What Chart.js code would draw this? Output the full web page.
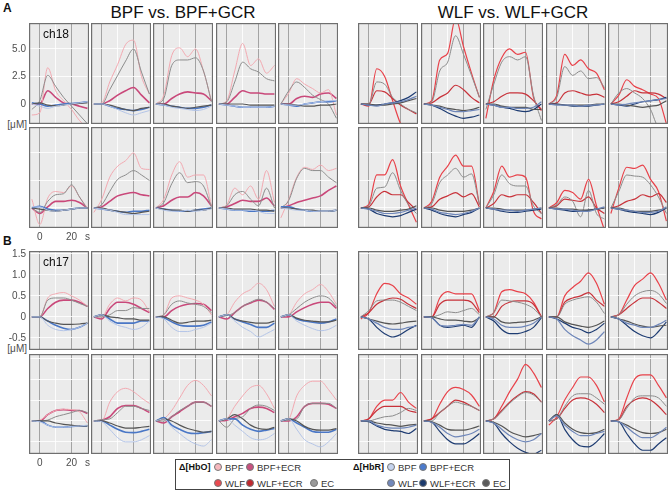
<!DOCTYPE html>
<html>
<head>
<meta charset="utf-8">
<script src="https://cdn.jsdelivr.net/npm/chart.js@4"></script>
<style>
body { margin: 0; background: #fff; font-family: 'Liberation Sans', Arial, sans-serif; }
#fig { position: relative; width: 669px; height: 491px; overflow: hidden; }
#fig canvas { position: absolute; }
.t { position: absolute; white-space: nowrap; color: #111; }
.title { font-size: 17px; line-height: 17px; transform: translateX(-50%); }
.unit { font-size: 10px; line-height: 12px; color: #4d4d4d; text-align: right; width: 27px; left: 0; }
#legend { position: absolute; left: 175px; top: 459px; width: 333px; height: 29px; border: 1px solid #444; background: #fff; }
.lg { position: absolute; font-size: 9.5px; line-height: 10px; color: #333; white-space: nowrap; }
.lgh { position: absolute; font-size: 9px; line-height: 10px; font-weight: bold; color: #111; white-space: nowrap; }
.dot { position: absolute; width: 8px; height: 8px; border-radius: 50%; box-sizing: border-box; border: 1px solid #777; }
</style>
</head>
<body>
<div id="fig">
  <div class="t" style="left:3px;top:1px;font-size:12px;font-weight:bold">A</div>
  <div class="t" style="left:3px;top:234px;font-size:12px;font-weight:bold">B</div>
  <div class="t title" style="left:183px;top:4px">BPF vs. BPF+GCR</div>
  <div class="t title" style="left:513px;top:4px">WLF vs. WLF+GCR</div>
  <div class="t unit" style="top:119px">[μM]</div>
  <div class="t unit" style="top:343px">[μM]</div>
  <div id="legend"></div>
</div>
<script>
// ── data ─────────────────────────────────────────────────────────────────────

const times = [-5, 0, 5, 10, 15, 20, 25, 30]

const xGridTicks = [0, 10, 20, 30]
const xTickText = ['0', '', '20', 's']
const stimLines = [0, 20]

const yTicksA = [0, 2.5, 5]
const yTextA = ['0', '2.5', '5.0']
const yTicksB = [-0.5, 0, 0.5, 1, 1.5]
const yTextB = ['-0.5', '0', '0.5', '1.0', '1.5']

const channelLabels = ['ch18', 'ch17']

// A, upper row (ch18) — BPF group
const a1_hbo_bpf = [
    [-1.0, -0.8, 3.3, 1.2, 0.3, -0.5, -1.5, -2.2],
    [0, 0.1, 2.0, 3.6, 5.4, 5.8, 2.5, 0.9],
    [0, 0.8, 4.4, 5.1, 4.3, 5.0, 3.0, 0.3],
    [0, 0.3, 3.0, 5.5, 3.5, 4.1, 2.8, 3.5],
    [0, 1.0, 2.3, 1.8, 1.4, 1.0, 1.3, -1.0],
]
const a1_hbo_bpfEcr = [
    [0, 0, 1.2, 0.6, 0.1, 0, -0.2, -0.4],
    [0, 0, 0.3, 0.8, 1.2, 1.5, 0.8, 0.1],
    [0, 0, 0.5, 0.9, 1.1, 1.0, 0.9, 0.3],
    [0, 0, 0.6, 1.2, 1.0, 1.0, 0.9, 0.9],
    [0, 0, 0.5, 0.7, 0.6, 0.9, 1.0, 0.5],
]
const a1_hbo_ec_bpf = [
    [-0.5, 0.3, 2.6, 1.6, 0.6, -0.2, -1.0, -1.8],
    [0, 0, 1.3, 2.6, 3.9, 5.0, 2.9, 0.9],
    [0, 0.5, 3.5, 4.0, 4.0, 4.2, 3.0, 0.2],
    [0, 0.2, 2.0, 3.8, 3.2, 2.9, 2.3, 2.1],
    [0, 1.2, 2.0, 1.5, 0.8, 0.4, 0, -1.3],
]
const a1_hbr_bpf = [
    [0, -0.2, -0.4, -0.2, -0.1, 0, 0.1, 0.2],
    [0, 0, -0.2, -0.5, -0.8, -1.0, -0.8, -0.6],
    [0, -0.1, -0.3, -0.4, -0.5, -0.6, -0.5, -0.2],
    [0, -0.1, -0.2, -0.3, -0.3, -0.3, -0.3, -0.2],
    [0, -0.1, -0.1, 0, 0.1, 0.2, 0.3, 0.3],
]
const a1_hbr_bpfEcr = [
    [0.1, 0, -0.2, -0.1, 0, 0.05, 0.1, 0.2],
    [0, 0, -0.2, -0.4, -0.5, -0.6, -0.5, -0.3],
    [0, -0.1, -0.2, -0.3, -0.4, -0.4, -0.3, -0.1],
    [0, -0.1, -0.2, -0.3, -0.3, -0.3, -0.3, -0.2],
    [0, -0.1, -0.2, 0, 0.1, 0.2, 0.2, 0.3],
]
const a1_hbr_ec_bpf = [
    [0, 0.1, -0.1, -0.15, -0.1, 0, 0.05, 0.1],
    [0, 0, -0.1, -0.3, -0.5, -0.6, -0.4, -0.3],
    [0, 0, -0.2, -0.3, -0.4, -0.3, -0.2, -0.1],
    [0, 0, 0, 0, -0.1, -0.1, -0.1, -0.1],
    [0, 0, -0.1, -0.2, -0.2, -0.1, -0.1, 0],
]

// A, upper row (ch18) — WLF group
const a1_hbo_wlf = [
    [0, -0.2, 3.2, 2.5, 0.3, -1.8, -3, -3],
    [0, 0.3, 4.0, 4.6, 7.8, 5.2, 2.8, 0.6],
    [-1.3, 2.2, 4.2, 5.0, 4.5, 4.7, 0.6, -0.6],
    [0, 0.8, 4.5, 3.5, 4.0, 3.2, 2.8, 1.3],
    [0, 0.8, 2.2, 1.6, 1.3, 0.9, 0.5, -1.8],
]
const a1_hbo_wlfEcr = [
    [0, 0, 1.2, 1.1, 0.5, -0.1, -0.5, -0.9],
    [0, 0.1, 0.6, 1.0, 1.7, 1.3, 0.6, 0.1],
    [0, 0.2, 0.7, 1.0, 1.0, 0.9, 0.3, -0.5],
    [0, 0.1, 1.0, 1.2, 1.0, 0.8, 0.9, 0.6],
    [0, 0.2, 0.7, 1.2, 1.0, 1.0, 0.9, 0.5],
]
const a1_hbo_ec_wlf = [
    [0, 0, 2.0, 1.8, 0.6, 0, -0.5, -0.8],
    [0, 0.2, 3.0, 3.8, 6.2, 4.5, 2.6, 0.6],
    [-0.5, 1.8, 3.8, 4.3, 4.0, 4.3, 0.8, -1.5],
    [0, 0.6, 3.4, 2.6, 3.0, 2.3, 2.4, 1.5],
    [0, 1.0, 1.4, 1.0, 0.5, -0.5, -2, -2],
]
const a1_hbr_wlf = [
    [0, -0.1, -0.2, 0, 0.1, 0.2, 0.4, 0.7],
    [0, -0.1, -0.3, -0.5, -0.7, -0.7, -0.6, -0.5],
    [0, -0.1, -0.3, -0.3, -0.4, -0.4, -0.3, 0.2],
    [0, -0.1, -0.1, -0.1, -0.2, -0.1, -0.1, 0],
    [0, -0.1, 0, 0.1, 0.2, 0.3, 0.4, 0.5],
]
const a1_hbr_wlfEcr = [
    [0, -0.1, -0.1, 0, 0.1, 0.3, 0.6, 1.1],
    [0, -0.1, -0.4, -0.8, -1.1, -1.3, -1.2, -1.0],
    [0, -0.1, -0.3, -0.4, -0.6, -0.7, -0.5, 0],
    [0, 0, -0.1, -0.2, -0.2, -0.2, -0.1, 0],
    [0, -0.1, -0.2, 0, 0.2, 0.3, 0.4, 0.6],
]
const a1_hbr_ec_wlf = [
    [0, 0, -0.1, -0.1, 0, 0.1, 0.3, 0.5],
    [0, -0.1, -0.2, -0.4, -0.5, -0.6, -0.5, -0.3],
    [0, 0, -0.2, -0.3, -0.3, -0.3, -0.5, -0.5],
    [0, 0, -0.1, -0.1, -0.1, -0.1, 0, 0],
    [0, 0, -0.1, -0.2, -0.3, -0.2, -0.1, 0.3],
]

// A, lower row — BPF group
const a2_hbo_bpf = [
    [0.8, -1.5, 0.9, 1.5, 1.4, 2.0, 1.0, 0],
    [-0.4, 0.8, 2.8, 3.8, 4.3, 5.0, 3.6, 3.5],
    [0, 0.8, 3.0, 4.2, 2.8, 3.0, 3.0, 0.2],
    [0, 0.3, 1.8, 1.2, 2.0, 0.8, 3.4, 0.5],
    [-0.9, 0.8, 2.8, 3.7, 3.5, 3.9, 3.4, 3.6],
]
const a2_hbo_bpfEcr = [
    [0, -0.5, 0.1, 0.6, 0.6, 0.7, 0.5, 0],
    [0, 0.1, 0.6, 1.1, 1.3, 1.4, 1.2, 1.1],
    [0, 0.2, 0.7, 1.0, 1.0, 1.4, 1.1, 0.2],
    [0, 0.1, 0.4, 0.7, 0.6, 0.6, 0.9, 0.2],
    [0, 0.2, 0.5, 0.7, 0.9, 1.1, 1.6, 2.0],
]
const a2_hbo_ec_bpf = [
    [0, -0.4, 0.6, 1.2, 1.3, 2.1, 1.0, -0.1],
    [0, 0.3, 1.5, 2.6, 3.0, 3.4, 3.0, 2.5],
    [0, 0.5, 2.2, 3.2, 2.3, 2.4, 2.0, 0.1],
    [0, 0.2, 1.2, 1.5, 0.8, 0.2, 1.8, 0],
    [0, 0.7, 2.7, 3.6, 3.4, 3.4, 2.8, 2.3],
]
const a2_hbr_bpf = [
    [0.1, 0.1, -0.2, -0.3, -0.2, -0.1, 0, 0],
    [0, -0.1, -0.2, -0.4, -0.6, -0.6, -0.6, -0.6],
    [0, -0.2, -0.3, -0.3, -0.2, -0.3, -0.2, -0.1],
    [0, -0.1, -0.2, -0.2, -0.2, -0.3, -0.5, -0.5],
    [0, -0.1, -0.2, -0.2, -0.3, -0.3, -0.3, -0.2],
]
const a2_hbr_bpfEcr = [
    [0, 0.15, -0.1, -0.2, -0.2, -0.1, 0, 0],
    [0, -0.1, -0.2, -0.3, -0.4, -0.3, -0.3, -0.2],
    [0, -0.1, -0.2, -0.3, -0.3, -0.2, -0.1, 0],
    [0, -0.1, -0.2, -0.2, -0.3, -0.3, -0.3, -0.2],
    [0.1, 0.1, -0.1, -0.2, -0.3, -0.3, -0.3, -0.2],
]
const a2_hbr_ec_bpf = [
    [0, -0.1, -0.2, -0.3, -0.2, -0.1, 0, 0],
    [0, 0, -0.2, -0.3, -0.4, -0.5, -0.4, -0.3],
    [0, -0.1, -0.2, -0.2, -0.3, -0.2, -0.2, 0],
    [0, 0, -0.1, -0.1, -0.1, -0.2, -0.2, -0.3],
    [0, 0, -0.1, -0.2, -0.2, -0.3, -0.3, -0.2],
]

// A, lower row — WLF group
const a2_hbo_wlf = [
    [0, 0.3, 3.0, 3.0, 4.4, 2.0, 0.3, -1.3],
    [0, 0.6, 2.8, 3.8, 4.8, 3.8, 3.8, 0.3],
    [0, 1.5, 3.8, 2.8, 3.0, 2.8, -0.3, -1.0],
    [0, 0.5, 1.6, 1.4, 0.8, 2.6, 0.2, -2.0],
    [-0.5, 1.8, 3.7, 3.6, 3.9, 2.6, 1.5, -1.2],
]
const a2_hbo_wlfEcr = [
    [0, 0.1, 1.0, 1.5, 1.2, 1.2, 0.5, -0.2],
    [0, 0.1, 0.8, 1.1, 1.4, 1.0, 1.3, 0.1],
    [0, 0.4, 1.2, 1.0, 1.2, 1.2, 0.5, -0.5],
    [0, 0.2, 0.8, 0.7, 0.6, 1.0, 0, -0.5],
    [0, 0.2, 0.6, 0.8, 1.2, 1.0, 1.3, 0.5],
]
const a2_hbo_ec_wlf = [
    [0, 0.2, 1.8, 1.9, 3.2, 1.6, 0.3, -0.5],
    [0, 0.4, 2.3, 3.0, 3.6, 2.8, 3.1, 0.3],
    [0, 1.2, 3.0, 2.2, 2.0, 2.0, 0.2, -0.5],
    [0, 0.3, 1.0, 0.6, -0.8, 1.6, -0.5, -1.0],
    [0, 1.5, 3.0, 2.9, 2.8, 2.1, 1.0, -0.5],
]
const a2_hbr_wlf = [
    [0, -0.1, -0.3, -0.5, -0.5, -0.4, -0.2, 0],
    [0, -0.1, -0.4, -0.5, -0.6, -0.5, -0.3, 0],
    [0, -0.1, -0.2, -0.2, -0.3, -0.2, -0.1, 0],
    [0, -0.1, -0.1, -0.2, -0.3, -0.3, -0.1, 0.1],
    [0, -0.1, -0.2, -0.3, -0.4, -0.4, -0.3, 0.1],
]
const a2_hbr_wlfEcr = [
    [0, -0.1, -0.5, -0.7, -0.8, -0.7, -0.4, -0.1],
    [0, -0.2, -0.5, -0.7, -0.8, -0.6, -0.4, 0],
    [0, -0.1, -0.3, -0.4, -0.4, -0.3, -0.2, -0.1],
    [0, -0.1, -0.2, -0.3, -0.3, -0.2, -0.1, 0],
    [0, -0.1, -0.3, -0.4, -0.5, -0.6, -0.4, 0],
]
const a2_hbr_ec_wlf = [
    [0, 0, -0.2, -0.3, -0.3, -0.2, -0.1, 0.2],
    [0, 0, -0.2, -0.3, -0.3, -0.3, -0.2, 0],
    [0, 0, -0.1, -0.2, -0.2, -0.2, -0.1, 0],
    [0, 0, -0.1, -0.1, -0.2, -0.2, -0.1, 0],
    [0, 0, -0.2, -0.3, -0.3, -0.3, -0.2, 0],
]

// B, upper row (ch17) — BPF group
const b1_hbo_bpf = [
    [0, 0, 0.45, 0.55, 0.58, 0.5, 0.4, 0.25],
    [0, 0, 0.3, 0.45, 0.38, 0.45, 0.4, 0.12],
    [0, 0.05, 0.45, 0.5, 0.45, 0.4, 0.3, 0.05],
    [0, 0.05, 0.35, 0.55, 0.65, 0.8, 0.65, 0.25],
    [0, 0.05, 0.35, 0.55, 0.65, 0.77, 0.6, 0.3],
]
const b1_hbo_bpfEcr = [
    [0, 0, 0.2, 0.35, 0.4, 0.4, 0.35, 0.25],
    [0, -0.05, 0.2, 0.35, 0.35, 0.3, 0.2, 0.1],
    [0, 0, 0.15, 0.25, 0.3, 0.32, 0.3, 0.15],
    [0, -0.05, 0.1, 0.25, 0.33, 0.4, 0.35, 0.18],
    [0, 0, 0.12, 0.22, 0.3, 0.35, 0.35, 0.2],
]
const b1_hbo_ec_bpf = [
    [0, 0, 0.4, 0.45, 0.45, 0.4, 0.32, 0.25],
    [0, 0, 0.05, 0.15, 0.15, 0.22, 0.2, 0.2],
    [0, 0.05, 0.3, 0.38, 0.33, 0.3, 0.25, 0.1],
    [0, 0.03, 0.1, 0.25, 0.35, 0.42, 0.35, 0.2],
    [0, 0.05, 0.2, 0.35, 0.45, 0.5, 0.45, 0.25],
]
const b1_hbr_bpf = [
    [0, 0, -0.2, -0.3, -0.33, -0.3, -0.25, -0.15],
    [0, 0.05, -0.1, -0.2, -0.25, -0.3, -0.25, -0.1],
    [0, -0.05, -0.25, -0.35, -0.35, -0.3, -0.25, -0.15],
    [0, 0.05, -0.1, -0.25, -0.35, -0.48, -0.4, -0.3],
    [0, 0.05, -0.1, -0.2, -0.28, -0.33, -0.3, -0.2],
]
const b1_hbr_bpfEcr = [
    [0, 0, -0.1, -0.2, -0.27, -0.3, -0.25, -0.15],
    [0, 0.05, -0.05, -0.15, -0.15, -0.15, -0.1, -0.1],
    [0, -0.02, -0.12, -0.2, -0.22, -0.22, -0.2, -0.12],
    [0, 0.05, -0.05, -0.12, -0.18, -0.25, -0.25, -0.15],
    [0, 0.05, -0.05, -0.1, -0.13, -0.15, -0.12, -0.05],
]
const b1_hbr_ec_bpf = [
    [0, 0, -0.1, -0.15, -0.18, -0.18, -0.17, -0.15],
    [0, 0.05, 0, -0.02, -0.05, -0.05, -0.08, -0.08],
    [0, 0, -0.08, -0.15, -0.13, -0.1, -0.1, -0.08],
    [0, 0.05, -0.05, -0.1, -0.13, -0.15, -0.15, -0.1],
    [0, 0.05, -0.03, -0.08, -0.1, -0.12, -0.12, -0.08],
]

// B, upper row (ch17) — WLF group
const b1_hbo_wlf = [
    [-0.05, 0.1, 0.55, 0.8, 0.75, 0.55, 0.45, 0.3],
    [0, 0, 0.45, 0.6, 0.55, 0.55, 0.55, 0.15],
    [0, 0.1, 0.6, 0.65, 0.6, 0.55, 0.35, 0],
    [0, 0, 0.5, 0.7, 0.85, 1.05, 0.8, 0.3],
    [0, 0.05, 0.4, 0.75, 0.9, 1.05, 0.8, 0.4],
]
const b1_hbo_wlfEcr = [
    [0, 0.1, 0.3, 0.4, 0.45, 0.42, 0.3, 0.2],
    [0, 0, 0.3, 0.4, 0.4, 0.4, 0.35, 0.1],
    [0, 0, 0.25, 0.35, 0.38, 0.38, 0.3, 0],
    [0, 0, 0.35, 0.45, 0.5, 0.58, 0.4, 0.25],
    [0, 0.05, 0.2, 0.35, 0.45, 0.45, 0.35, 0.2],
]
const b1_hbo_ec_wlf = [
    [0, 0.15, 0.38, 0.4, 0.4, 0.35, 0.25, 0.15],
    [0, 0, 0.05, 0.12, 0.1, 0.15, 0.2, 0.05],
    [0, 0.1, 0.4, 0.38, 0.35, 0.3, 0.2, 0],
    [0, 0, 0.3, 0.4, 0.45, 0.48, 0.35, 0.08],
    [0, 0.05, 0.3, 0.5, 0.6, 0.63, 0.55, 0.32],
]
const b1_hbr_wlf = [
    [0, -0.05, -0.15, -0.25, -0.3, -0.3, -0.25, -0.22],
    [0, -0.02, -0.2, -0.22, -0.2, -0.18, -0.2, 0],
    [0, -0.05, -0.2, -0.25, -0.25, -0.22, -0.15, 0],
    [0, -0.05, -0.3, -0.45, -0.55, -0.65, -0.55, -0.35],
    [0, -0.05, -0.15, -0.2, -0.25, -0.25, -0.18, -0.08],
]
const b1_hbr_wlfEcr = [
    [0, -0.05, -0.25, -0.4, -0.48, -0.42, -0.3, -0.2],
    [0, -0.02, -0.2, -0.25, -0.23, -0.2, -0.25, 0],
    [0, -0.1, -0.3, -0.4, -0.4, -0.35, -0.25, -0.02],
    [0, -0.05, -0.15, -0.25, -0.3, -0.38, -0.3, -0.15],
    [0, -0.05, -0.2, -0.35, -0.45, -0.5, -0.35, -0.12],
]
const b1_hbr_ec_wlf = [
    [0, -0.05, -0.1, -0.15, -0.17, -0.15, -0.12, -0.1],
    [0, 0, -0.05, -0.08, -0.08, -0.1, -0.12, -0.02],
    [0, 0, -0.12, -0.15, -0.13, -0.12, -0.08, 0],
    [0, 0, -0.12, -0.18, -0.22, -0.25, -0.2, -0.1],
    [0, -0.05, -0.1, -0.17, -0.22, -0.25, -0.22, -0.2],
]

// B, lower row — BPF group
const b2_hbo_bpf = [
    [0, 0.02, 0.15, 0.25, 0.28, 0.27, 0.22, -0.05],
    [0, 0, 0.45, 0.7, 0.78, 0.7, 0.55, 0.42],
    [0, 0.05, 0.25, 0.55, 0.85, 0.97, 0.85, 0.6],
    [0, 0.05, 0.35, 0.6, 0.8, 0.85, 0.65, 0.3],
    [0, 0.05, 0.6, 0.85, 0.95, 0.95, 0.75, 0.5],
]
const b2_hbo_bpfEcr = [
    [0, 0, 0.15, 0.25, 0.27, 0.25, 0.25, 0.18],
    [0, 0.02, 0.1, 0.3, 0.37, 0.37, 0.3, 0.2],
    [0, -0.05, 0.1, 0.22, 0.35, 0.45, 0.45, 0.35],
    [0, 0.02, 0.1, 0.18, 0.3, 0.33, 0.3, 0.2],
    [0, 0, 0.1, 0.35, 0.42, 0.42, 0.4, 0.3],
]
const b2_hbo_ec_bpf = [
    [0, 0, 0.02, 0.1, 0.15, 0.2, 0.25, 0.2],
    [0, 0.03, 0.05, 0.2, 0.35, 0.35, 0.3, 0.25],
    [0, 0, 0.1, 0.25, 0.35, 0.45, 0.45, 0.35],
    [0, -0.15, 0.05, 0.1, 0.3, 0.38, 0.35, 0.25],
    [0, 0.02, 0.05, 0.35, 0.42, 0.42, 0.42, 0.3],
]
const b2_hbr_bpf = [
    [0, -0.02, -0.1, -0.15, -0.15, -0.13, -0.12, -0.1],
    [0, -0.02, -0.2, -0.4, -0.5, -0.5, -0.45, -0.35],
    [0, 0.05, -0.15, -0.3, -0.45, -0.55, -0.6, -0.45],
    [0, 0.05, -0.1, -0.25, -0.4, -0.45, -0.42, -0.3],
    [0, 0.05, -0.2, -0.45, -0.55, -0.62, -0.5, -0.3],
]
const b2_hbr_bpfEcr = [
    [0, 0, -0.1, -0.15, -0.15, -0.13, -0.12, -0.12],
    [0, 0, -0.1, -0.2, -0.27, -0.28, -0.25, -0.2],
    [0, 0.08, -0.1, -0.2, -0.28, -0.3, -0.28, -0.25],
    [0, 0.05, 0.05, -0.1, -0.2, -0.25, -0.22, -0.18],
    [0, 0.05, -0.05, -0.15, -0.25, -0.27, -0.27, -0.2],
]
const b2_hbr_ec_bpf = [
    [0, 0, 0, -0.05, -0.08, -0.1, -0.12, -0.12],
    [0, 0, -0.05, -0.12, -0.17, -0.17, -0.15, -0.13],
    [0, 0.05, 0, -0.1, -0.18, -0.23, -0.27, -0.25],
    [0, 0.05, 0.15, 0.05, -0.1, -0.18, -0.2, -0.15],
    [0, 0.05, 0, -0.13, -0.2, -0.22, -0.22, -0.18],
]

// B, lower row — WLF group
const b2_hbo_wlf = [
    [0, 0.05, 0.35, 0.5, 0.5, 0.68, 0.45, 0.3],
    [0, 0.05, 0.4, 0.7, 0.8, 0.75, 0.62, 0.35],
    [0, 0.05, 0.35, 0.7, 1.0, 1.35, 1.15, 0.8],
    [-0.1, 0.1, 0.5, 0.8, 1.05, 1.05, 0.85, 0.45],
    [0, 0.05, 0.55, 1.0, 1.1, 1.1, 0.85, 0.55],
]
const b2_hbo_wlfEcr = [
    [0, 0.05, 0.25, 0.35, 0.35, 0.35, 0.25, 0.2],
    [0, 0.05, 0.2, 0.35, 0.5, 0.45, 0.35, 0.25],
    [0, 0.05, 0.25, 0.45, 0.6, 0.7, 0.65, 0.45],
    [0, 0.05, 0.3, 0.5, 0.55, 0.52, 0.4, 0.2],
    [0, 0.03, 0.35, 0.5, 0.55, 0.5, 0.35, 0.15],
]
const b2_hbo_ec_wlf = [
    [0, 0, 0.05, 0.1, 0.12, 0.2, 0.3, 0.25],
    [0, 0, 0.2, 0.35, 0.45, 0.4, 0.35, 0.25],
    [0, 0.05, 0.22, 0.42, 0.58, 0.68, 0.62, 0.45],
    [0, 0.05, 0.35, 0.6, 0.65, 0.65, 0.55, 0.4],
    [0, 0.03, 0.3, 0.55, 0.6, 0.6, 0.55, 0.35],
]
const b2_hbr_wlf = [
    [0, 0, -0.1, -0.15, -0.17, -0.17, -0.15, -0.1],
    [0, -0.03, -0.15, -0.3, -0.38, -0.35, -0.3, -0.2],
    [0, -0.05, -0.2, -0.35, -0.45, -0.5, -0.45, -0.3],
    [0, 0.12, -0.1, -0.25, -0.35, -0.35, -0.3, -0.25],
    [0, -0.02, -0.15, -0.3, -0.4, -0.4, -0.3, -0.15],
]
const b2_hbr_wlfEcr = [
    [0, -0.02, -0.12, -0.2, -0.23, -0.25, -0.3, -0.18],
    [0, -0.03, -0.25, -0.45, -0.55, -0.55, -0.45, -0.3],
    [0, -0.05, -0.3, -0.5, -0.65, -0.75, -0.8, -0.7],
    [0, 0.15, -0.2, -0.45, -0.6, -0.62, -0.5, -0.3],
    [0, -0.02, -0.3, -0.55, -0.7, -0.7, -0.55, -0.4],
]
const b2_hbr_ec_wlf = [
    [0, 0, -0.05, -0.08, -0.1, -0.13, -0.1, -0.08],
    [0, -0.02, -0.1, -0.2, -0.22, -0.22, -0.18, -0.12],
    [0, -0.03, -0.12, -0.25, -0.33, -0.38, -0.35, -0.3],
    [0, 0.15, -0.05, -0.2, -0.28, -0.3, -0.28, -0.2],
    [0, -0.02, -0.1, -0.2, -0.28, -0.3, -0.28, -0.2],
]


// ── styles / layout ──────────────────────────────────────────────────────────

// draw order: HbR first, then HbO
const bpfStyle = [
    { color: '#b4c5e8', width: 1 },     // HbR BPF
    { color: '#555555', width: 1.2 },   // HbR EC
    { color: '#4a77c6', width: 1.6 },   // HbR BPF+ECR
    { color: '#8c8c8c', width: 1 },     // HbO EC
    { color: '#f3a9b1', width: 1 },     // HbO BPF
    { color: '#c9487a', width: 1.6 },   // HbO BPF+ECR
]
const wlfStyle = [
    { color: '#6e86b9', width: 1.2 },   // HbR WLF
    { color: '#555555', width: 1.2 },   // HbR EC
    { color: '#1e3c72', width: 1.2 },   // HbR WLF+ECR
    { color: '#8c8c8c', width: 1 },     // HbO EC
    { color: '#c8323a', width: 1.2 },   // HbO WLF+ECR
    { color: '#e8424a', width: 1.2 },   // HbO WLF
]

const rowSeries = [
    {
        bpf: [a1_hbr_bpf, a1_hbr_ec_bpf, a1_hbr_bpfEcr, a1_hbo_ec_bpf, a1_hbo_bpf, a1_hbo_bpfEcr],
        wlf: [a1_hbr_wlf, a1_hbr_ec_wlf, a1_hbr_wlfEcr, a1_hbo_ec_wlf, a1_hbo_wlfEcr, a1_hbo_wlf],
    },
    {
        bpf: [a2_hbr_bpf, a2_hbr_ec_bpf, a2_hbr_bpfEcr, a2_hbo_ec_bpf, a2_hbo_bpf, a2_hbo_bpfEcr],
        wlf: [a2_hbr_wlf, a2_hbr_ec_wlf, a2_hbr_wlfEcr, a2_hbo_ec_wlf, a2_hbo_wlfEcr, a2_hbo_wlf],
    },
    {
        bpf: [b1_hbr_bpf, b1_hbr_ec_bpf, b1_hbr_bpfEcr, b1_hbo_ec_bpf, b1_hbo_bpf, b1_hbo_bpfEcr],
        wlf: [b1_hbr_wlf, b1_hbr_ec_wlf, b1_hbr_wlfEcr, b1_hbo_ec_wlf, b1_hbo_wlfEcr, b1_hbo_wlf],
    },
    {
        bpf: [b2_hbr_bpf, b2_hbr_ec_bpf, b2_hbr_bpfEcr, b2_hbo_ec_bpf, b2_hbo_bpf, b2_hbo_bpfEcr],
        wlf: [b2_hbr_wlf, b2_hbr_ec_wlf, b2_hbr_wlfEcr, b2_hbo_ec_wlf, b2_hbo_wlfEcr, b2_hbo_wlf],
    },
]

const rows = [
    { top: 23,  h: 101, min: -1.82, max: 7.36, ticks: yTicksA, text: yTextA, yLabels: true,  xLabels: false, ch: 0 },
    { top: 127, h: 101, min: -1.82, max: 7.36, ticks: yTicksA, text: yTextA, yLabels: false, xLabels: true },
    { top: 251, h: 99,  min: -0.79, max: 1.57, ticks: yTicksB, text: yTextB, yLabels: true,  xLabels: false, ch: 1 },
    { top: 354, h: 100, min: -0.79, max: 1.6,  ticks: yTicksB, text: yTextB, yLabels: false, xLabels: true },
]

const leftCols = [29, 91, 153, 216, 278]
const rightCols = [358, 421, 483, 546, 608]
const PANEL_W = 60
const PAD = 8
const Y_AXIS_W = 29
const X_AXIS_H = 16
const X_MIN = -6.8, X_MAX = 31

Chart.defaults.font.family = "'Liberation Sans', Arial, sans-serif"

const fig = document.getElementById('fig')


// ── panels ───────────────────────────────────────────────────────────────────

const panelFrame = {
    id: 'panelFrame',
    beforeDraw(chart) {
        const { ctx, chartArea: a } = chart
        ctx.save()
        ctx.fillStyle = '#ebebeb'
        ctx.fillRect(a.left, a.top, a.right - a.left, a.bottom - a.top)
        ctx.restore()
    },
    afterDraw(chart) {
        const { ctx, chartArea: a } = chart
        ctx.save()
        ctx.strokeStyle = '#6f6f6f'
        ctx.lineWidth = 1.2
        ctx.strokeRect(a.left + 0.6, a.top + 0.6, a.right - a.left - 1.2, a.bottom - a.top - 1.2)
        ctx.restore()
    }
}

function makePanel(x, row, series, withY, withX) {
    const yw = withY ? Y_AXIS_W : 0
    const xh = withX ? X_AXIS_H : 0
    const padL = withY ? 0 : PAD
    const padB = withX ? 0 : PAD

    const cv = document.createElement('canvas')
    cv.width = padL + yw + PANEL_W + PAD
    cv.height = PAD + row.h + xh + padB
    cv.style.left = (x - yw - padL) + 'px'
    cv.style.top = (row.top - PAD) + 'px'
    fig.appendChild(cv)

    const noPad = s => { s.paddingLeft = 0; s.paddingRight = 0; s.paddingTop = 0; s.paddingBottom = 0 }

    new Chart(cv, {
        type: 'line',
        data: {
            datasets: series.map(s => ({
                data: times.map((t, i) => ({ x: t, y: s.vals[i] })),
                borderColor: s.color,
                borderWidth: s.width,
                pointRadius: 0,
                cubicInterpolationMode: 'monotone',
                fill: false,
            }))
        },
        options: {
            responsive: false,
            animation: false,
            devicePixelRatio: 1,
            layout: { padding: { left: padL, right: PAD, top: PAD, bottom: padB } },
            plugins: { legend: { display: false }, tooltip: { enabled: false } },
            scales: {
                x: {
                    type: 'linear', min: X_MIN, max: X_MAX,
                    afterBuildTicks: s => { s.ticks = xGridTicks.map(v => ({ value: v })) },
                    afterFit: s => { s.height = xh; noPad(s) },
                    ticks: {
                        display: withX, autoSkip: false, maxRotation: 0, padding: 3,
                        color: '#4d4d4d', font: { size: 10 },
                        callback: v => xTickText[xGridTicks.indexOf(v)] ?? '',
                    },
                    grid: {
                        drawTicks: false,
                        color: c => stimLines.includes(c.tick.value) ? '#a3a3a3' : 'rgba(255,255,255,0.85)',
                        lineWidth: 1,
                    },
                    border: { display: false },
                },
                y: {
                    type: 'linear', min: row.min, max: row.max,
                    afterBuildTicks: s => { s.ticks = row.ticks.map(v => ({ value: v })) },
                    afterFit: s => { s.width = yw; noPad(s) },
                    ticks: {
                        display: withY, padding: 3,
                        color: '#4d4d4d', font: { size: 10 },
                        callback: v => row.text[row.ticks.indexOf(v)] ?? '',
                    },
                    grid: { drawTicks: false, color: 'rgba(255,255,255,0.85)', lineWidth: 1 },
                    border: { display: false },
                },
            }
        },
        plugins: [panelFrame]
    })
}

rows.forEach((row, r) => {
    leftCols.forEach((x, p) => {
        const series = bpfStyle.map((st, k) => ({ ...st, vals: rowSeries[r].bpf[k][p] }))
        makePanel(x, row, series, p === 0 && row.yLabels, p === 0 && row.xLabels)
    })
    rightCols.forEach((x, p) => {
        const series = wlfStyle.map((st, k) => ({ ...st, vals: rowSeries[r].wlf[k][p] }))
        makePanel(x, row, series, false, false)
    })
    if (row.ch !== undefined) {
        const d = document.createElement('div')
        d.className = 't'
        d.style.cssText = `left:43px;top:${row.top + 4}px;font-size:12px;line-height:14px`
        d.textContent = channelLabels[row.ch]
        fig.appendChild(d)
    }
})


// ── legend ───────────────────────────────────────────────────────────────────

const legendHeads = [
    { text: 'Δ[HbO]', x: 3, y: 2 },
    { text: 'Δ[HbR]', x: 177, y: 2 },
]
const legendItems = [
    { label: 'BPF', color: '#f5b8be', x: 42, y: 7 },
    { label: 'BPF+ECR', color: '#c8517f', x: 74, y: 7 },
    { label: 'WLF', color: '#ea4a50', x: 42, y: 23 },
    { label: 'WLF+ECR', color: '#c0282e', x: 74, y: 23 },
    { label: 'EC', color: '#9a9a9a', x: 138, y: 23 },
    { label: 'BPF', color: '#c6d4ee', x: 215, y: 7 },
    { label: 'BPF+ECR', color: '#4b7bcd', x: 247, y: 7 },
    { label: 'WLF', color: '#7288bb', x: 215, y: 23 },
    { label: 'WLF+ECR', color: '#1b3a6d', x: 247, y: 23 },
    { label: 'EC', color: '#5a5a5a', x: 310, y: 23 },
]

const legend = document.getElementById('legend')
legendHeads.forEach(h => {
    const d = document.createElement('div')
    d.className = 'lgh'
    d.style.left = h.x + 'px'
    d.style.top = h.y + 'px'
    d.textContent = h.text
    legend.appendChild(d)
})
legendItems.forEach(it => {
    const dot = document.createElement('div')
    dot.className = 'dot'
    dot.style.left = (it.x - 4) + 'px'
    dot.style.top = (it.y - 4) + 'px'
    dot.style.background = it.color
    legend.appendChild(dot)
    const t = document.createElement('div')
    t.className = 'lg'
    t.style.left = (it.x + 7) + 'px'
    t.style.top = (it.y - 4) + 'px'
    t.textContent = it.label
    legend.appendChild(t)
})
</script>
</body>
</html>
